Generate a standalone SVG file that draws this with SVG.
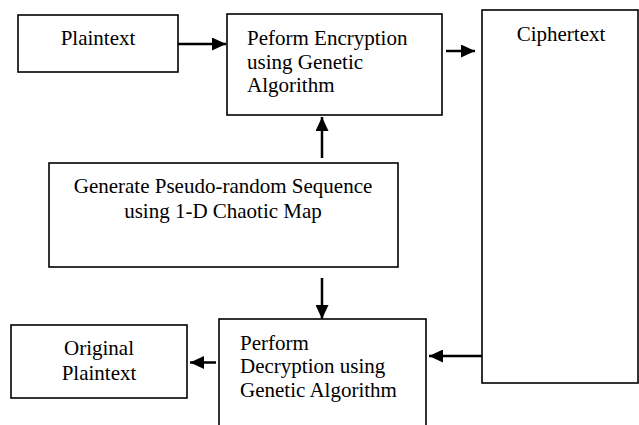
<svg xmlns="http://www.w3.org/2000/svg" width="639" height="425" viewBox="0 0 639 425">
<style>
.box{fill:#fff;stroke:#000;stroke-width:1.6}
.t{font-family:"Liberation Serif","Times New Roman",serif;font-size:21px;fill:#000}
.c{text-anchor:middle}
.ln{stroke:#000;stroke-width:2.5;fill:none}
</style>
<defs>
<marker id="ah" markerWidth="14" markerHeight="13" refX="14" refY="6.5" orient="auto" markerUnits="userSpaceOnUse">
<path d="M0,0 L14,6.5 L0,13 Z" fill="#000"/>
</marker>
</defs>
<rect width="639" height="425" fill="#fff"/>
<g id="plaintext">
<rect class="box" x="18" y="15" width="160" height="57"/>
<text class="t c" x="98" y="45">Plaintext</text>
</g>
<g id="encryption">
<rect class="box" x="227" y="14" width="215" height="101"/>
<text class="t" x="247" y="45">Peform Encryption</text>
<text class="t" x="247" y="68.5">using Genetic</text>
<text class="t" x="247" y="92">Algorithm</text>
</g>
<g id="ciphertext">
<rect class="box" x="482" y="10" width="156" height="373"/>
<text class="t c" x="561" y="41">Ciphertext</text>
</g>
<g id="generate">
<rect class="box" x="49" y="163" width="349" height="104"/>
<text class="t c" x="223" y="192.5">Generate Pseudo-random Sequence</text>
<text class="t c" x="223" y="218">using 1-D Chaotic Map</text>
</g>
<g id="decryption">
<rect class="box" x="219" y="319" width="207" height="120"/>
<text class="t" x="240" y="350">Perform</text>
<text class="t" x="240" y="373">Decryption using</text>
<text class="t" x="240" y="397">Genetic Algorithm</text>
</g>
<g id="original">
<rect class="box" x="11" y="325" width="176" height="73"/>
<text class="t c" x="99" y="355">Original</text>
<text class="t c" x="99" y="380">Plaintext</text>
</g>
<g id="connectors">
<line class="ln" x1="178" y1="44" x2="226" y2="44" marker-end="url(#ah)"/>
<line class="ln" x1="446" y1="51" x2="475" y2="51" marker-end="url(#ah)"/>
<line class="ln" x1="322" y1="158" x2="322" y2="117" marker-end="url(#ah)"/>
<line class="ln" x1="322" y1="278" x2="322" y2="319" marker-end="url(#ah)"/>
<line class="ln" x1="482" y1="356" x2="429" y2="356" marker-end="url(#ah)"/>
<line class="ln" x1="216" y1="362.5" x2="190" y2="362.5" marker-end="url(#ah)"/>
</g>
</svg>
